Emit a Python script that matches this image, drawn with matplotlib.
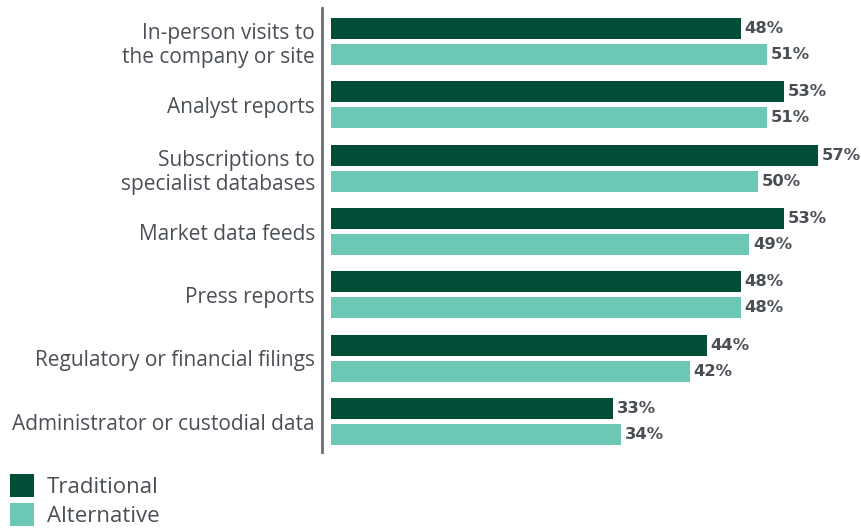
import matplotlib.pyplot as plt
import numpy as np

categories = ["In-person visits to\nthe company or site", "Analyst reports",
              "Subscriptions to\nspecialist databases", "Market data feeds",
              "Press reports", "Regulatory or financial filings",
              "Administrator or custodial data"]
traditional = [48, 53, 57, 53, 48, 44, 33]
alternative = [51, 51, 50, 49, 48, 42, 34]
series_names = ["Traditional", "Alternative"]

dark = "#004d38"
light = "#6cc7b4"
text_col = "#4a4f57"

plt.rcParams['font.family'] = ['Open Sans', 'DejaVu Sans']

fig = plt.figure(figsize=(8.61, 5.29), dpi=100)
ax = fig.add_axes([331 / 861, 1 - 452 / 529, 1 - 331 / 861, 444 / 529])

y = np.arange(len(categories))
h = 0.33
off = 0.205
b1 = ax.barh(y - off, traditional, height=h, color=dark, label=series_names[0])
b2 = ax.barh(y + off, alternative, height=h, color=light, label=series_names[1])

# value labels just right of each bar
for bars, vals in [(b1, traditional), (b2, alternative)]:
    for bar, v in zip(bars, vals):
        ax.text(bar.get_width() + 0.45, bar.get_y() + bar.get_height() / 2, f"{v}%",
                ha='left', va='center', fontsize=11.8, fontweight='bold',
                color=text_col, family='DejaVu Sans', clip_on=False)

ax.set_xlim(0, 62.06)
ax.set_ylim(6.48, -0.53)
ax.set_yticks(y)
ax.set_yticklabels(categories)
ax.tick_params(axis='y', length=0, pad=5, labelsize=15, labelcolor=text_col)
for lbl in ax.get_yticklabels():
    lbl.set_linespacing(1.15)
ax.set_xticks([])

for s in ['top', 'right', 'bottom']:
    ax.spines[s].set_visible(False)
ax.spines['left'].set_position(('outward', 6.5))
ax.spines['left'].set_color('#6b6f76')
ax.spines['left'].set_linewidth(2)

fig.legend(handles=[b1, b2], labels=series_names, loc='upper left',
           bbox_to_anchor=(10 / 861, 1 - 474 / 529), frameon=False, fontsize=16,
           handlelength=1.1, handleheight=1.2, labelspacing=0.25, borderpad=0,
           handletextpad=0.55, labelcolor=text_col, borderaxespad=0)

fig.savefig("out.png", dpi=100)
